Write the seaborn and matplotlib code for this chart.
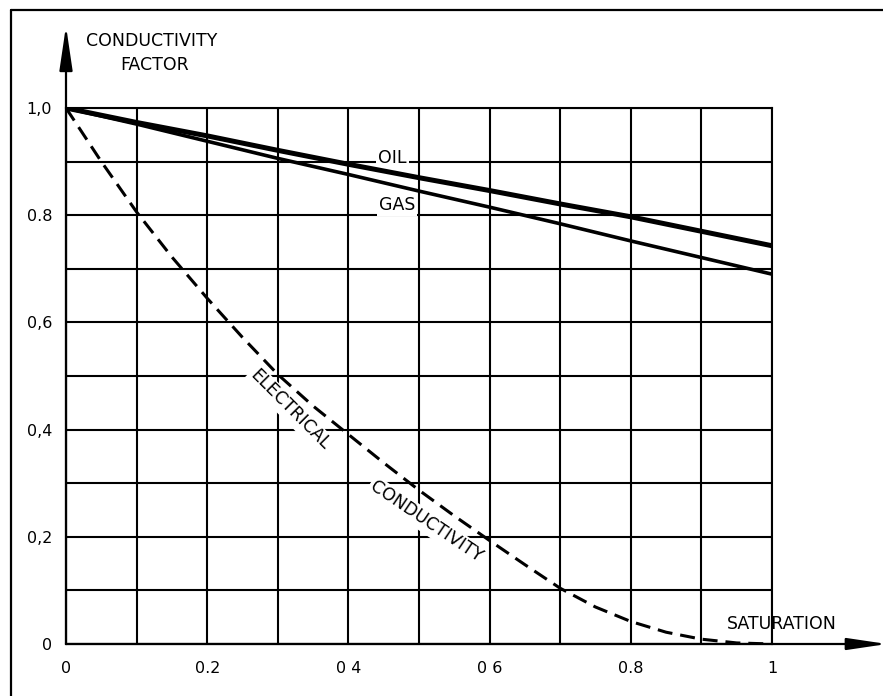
import matplotlib
matplotlib.use("Agg")
import matplotlib.pyplot as plt
import matplotlib.lines as mlines
import seaborn as sns
import numpy as np

# Curves (saturation on x, conductivity factor on y)
sat = [0.0, 0.1, 0.2, 0.3, 0.4, 0.5, 0.6, 0.7, 0.8, 0.9, 1.0]
oil = [1.0, 0.973, 0.948, 0.921, 0.895, 0.870, 0.846, 0.821, 0.797, 0.770, 0.743]
gas = [1.0, 0.970, 0.938, 0.906, 0.876, 0.845, 0.815, 0.784, 0.752, 0.721, 0.690]

sat_el = [0.0, 0.05, 0.1, 0.15, 0.2, 0.25, 0.3, 0.35, 0.4, 0.45, 0.5, 0.55,
          0.6, 0.65, 0.7, 0.75, 0.8, 0.85, 0.9, 0.95, 1.0]
electrical = [1.0, 0.900, 0.806, 0.722, 0.645, 0.572, 0.503, 0.444, 0.391, 0.338, 0.287, 0.239,
              0.193, 0.148, 0.104, 0.069, 0.042, 0.022, 0.009, 0.002, 0.0]

x_ticks = [0.0, 0.2, 0.4, 0.6, 0.8, 1.0]
x_labels = ["0", "0.2", "0 4", "0 6", "0.8", "1"]
y_ticks = [0.0, 0.2, 0.4, 0.6, 0.8, 1.0]
y_labels = ["0", "0,2", "0,4", "0,6", "0.8", "1,0"]

sns.set_theme(style="white")
plt.rcParams['font.family'] = ['DejaVu Sans']

fig = plt.figure(figsize=(8.83, 6.96), dpi=100)
ax = fig.add_axes([66 / 883, 1 - 644 / 696, 706 / 883, 536 / 696])

# outer frame (left and top edges of the scanned box)
fig.add_artist(mlines.Line2D([11 / 883, 11 / 883], [0, 1 - 10 / 696], color="black", lw=1.6))
fig.add_artist(mlines.Line2D([11 / 883, 1], [1 - 10 / 696, 1 - 10 / 696], color="black", lw=1.6))

sns.lineplot(x=sat, y=oil, ax=ax, color="black", linewidth=3.6, zorder=4)
sns.lineplot(x=sat, y=gas, ax=ax, color="black", linewidth=2.6, zorder=4)
sns.lineplot(x=sat_el, y=electrical, ax=ax, color="black", linewidth=2.2,
             linestyle=(0, (4.9, 2.6)), zorder=4)

ax.set_xlim(0, 1)
ax.set_ylim(0, 1)
ax.set_xticks(x_ticks)
ax.set_xticklabels(x_labels)
ax.set_yticks(y_ticks)
ax.set_yticklabels(y_labels)
ax.set_xticks(np.arange(0, 1.01, 0.1), minor=True)
ax.set_yticks(np.arange(0, 1.01, 0.1), minor=True)
ax.grid(which="both", color="black", linewidth=1.5)
ax.tick_params(which="both", length=0, labelsize=11.5, colors="black")
ax.tick_params(axis="x", pad=12)
ax.tick_params(axis="y", pad=10)
for s in ax.spines.values():
    s.set_color("black")
    s.set_linewidth(1.5)
ax.set_xlabel("")
ax.set_ylabel("")

# axis arrows
head = "-|>,head_length=1.35,head_width=0.2"
ax.annotate("", xy=(0, 1.153), xytext=(0, 0), xycoords="data",
            arrowprops=dict(arrowstyle=head, color="black", lw=1.6,
                            mutation_scale=20, shrinkA=0, shrinkB=0),
            annotation_clip=False)
ax.annotate("", xy=(1.163, 0), xytext=(0, 0), xycoords="data",
            arrowprops=dict(arrowstyle=head, color="black", lw=1.6,
                            mutation_scale=18, shrinkA=0, shrinkB=0),
            annotation_clip=False)

txt = dict(color="black", fontsize=12.5, ha="center", va="center")
ax.text(0.122, 1.125, "CONDUCTIVITY", clip_on=False, **txt)
ax.text(0.126, 1.08, "FACTOR", clip_on=False, **txt)
ax.text(1.014, 0.037, "SATURATION", clip_on=False, **txt)

box = dict(facecolor="white", edgecolor="none", pad=1.5)
ax.text(0.462, 0.907, "OIL", bbox=box, zorder=3, **txt)
ax.text(0.469, 0.819, "GAS", bbox=box, zorder=3, **txt)
ax.text(0.317, 0.437, "ELECTRICAL", rotation=-45, rotation_mode="anchor",
        bbox=box, zorder=3, **txt)
ax.text(0.51, 0.228, "CONDUCTIVITY", rotation=-34, rotation_mode="anchor",
        bbox=box, zorder=3, **txt)

fig.savefig("out.png", dpi=100)
